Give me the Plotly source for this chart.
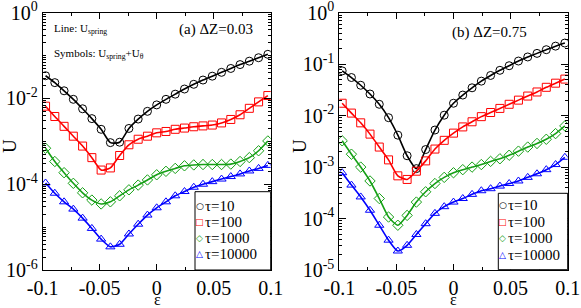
import plotly.graph_objects as go

# ---------------- data ----------------
eps = [-0.0975, -0.089375, -0.08125, -0.073125, -0.065, -0.056875, -0.04875,
       -0.040625, -0.0325, -0.024375, -0.01625, -0.008125, 0.0, 0.008125,
       0.01625, 0.024375, 0.0325, 0.040625, 0.04875, 0.056875, 0.065,
       0.073125, 0.08125, 0.089375, 0.0975]

labels = ["τ=10", "τ=100", "τ=1000", "τ=10000"]

# panel (a) dZ = 0.03
a_tau10 = [3.39e-2, 2.34e-2, 1.51e-2, 9.55e-3, 5.75e-3, 3.39e-3, 1.91e-3, 9.33e-4,
           9.55e-4, 2.0e-3, 3.31e-3, 5.01e-3, 7.08e-3, 9.55e-3, 1.26e-2, 1.66e-2,
           2.14e-2, 2.69e-2, 3.31e-2, 4.07e-2, 5.01e-2, 6.17e-2, 7.41e-2, 8.91e-2, 0.107]
a_tau100 = [6.61e-3, 3.80e-3, 2.24e-3, 1.32e-3, 7.76e-4, 4.17e-4, 2.14e-4, 2.40e-4,
            4.68e-4, 8.32e-4, 1.12e-3, 1.32e-3, 1.58e-3, 1.70e-3, 1.91e-3, 2.04e-3,
            2.19e-3, 2.29e-3, 2.40e-3, 2.69e-3, 3.24e-3, 4.17e-3, 5.89e-3, 8.32e-3, 1.17e-2]
a_tau1000 = [6.92e-4, 3.39e-4, 1.86e-4, 1.05e-4, 6.31e-5, 4.27e-5, 3.47e-5, 3.89e-5,
             5.37e-5, 7.41e-5, 9.55e-5, 1.26e-4, 1.66e-4, 2.0e-4, 2.34e-4, 2.69e-4,
             2.82e-4, 2.88e-4, 2.88e-4, 2.88e-4, 2.95e-4, 3.39e-4, 4.17e-4, 6.03e-4, 1.02e-3]
a_tau10000 = [1.07e-4, 6.17e-5, 3.89e-5, 2.63e-5, 1.62e-5, 9.33e-6, 5.25e-6, 3.47e-6,
              3.98e-6, 6.92e-6, 1.17e-5, 1.91e-5, 2.82e-5, 3.89e-5, 5.37e-5, 6.76e-5,
              8.51e-5, 1.0e-4, 1.15e-4, 1.32e-4, 1.51e-4, 1.74e-4, 2.04e-4, 2.34e-4, 2.75e-4]

# panel (b) dZ = 0.75
b_tau10 = [7.41e-2, 5.50e-2, 3.89e-2, 2.63e-2, 1.66e-2, 9.12e-3, 4.17e-3, 1.66e-3,
           9.33e-4, 2.19e-3, 5.25e-3, 1.02e-2, 1.74e-2, 2.51e-2, 3.47e-2, 4.68e-2,
           6.03e-2, 7.59e-2, 9.33e-2, 0.115, 0.138, 0.162, 0.191, 0.224, 0.257]
b_tau100 = [1.74e-2, 1.12e-2, 7.24e-3, 4.37e-3, 2.45e-3, 1.38e-3, 6.76e-4, 5.75e-4,
            8.32e-4, 1.32e-3, 2.24e-3, 3.31e-3, 4.57e-3, 6.03e-3, 7.59e-3, 9.55e-3,
            1.15e-2, 1.38e-2, 1.66e-2, 2.0e-2, 2.40e-2, 2.88e-2, 3.55e-2, 4.27e-2, 5.13e-2]
b_tau1000 = [3.24e-3, 1.78e-3, 1.0e-3, 5.37e-4, 2.45e-4, 1.07e-4, 7.41e-5, 1.15e-4,
             2.09e-4, 3.31e-4, 4.79e-4, 6.31e-4, 7.76e-4, 8.91e-4, 1.0e-3, 1.12e-3,
             1.29e-3, 1.45e-3, 1.70e-3, 2.04e-3, 2.45e-3, 2.88e-3, 3.47e-3, 4.47e-3, 6.31e-3]
b_tau10000 = [7.76e-4, 4.47e-4, 2.63e-4, 1.45e-4, 7.41e-5, 3.80e-5, 2.34e-5, 3.02e-5,
              4.90e-5, 7.94e-5, 1.26e-4, 1.70e-4, 2.09e-4, 2.45e-4, 2.95e-4, 3.47e-4,
              3.80e-4, 4.27e-4, 4.79e-4, 5.37e-4, 6.31e-4, 7.41e-4, 8.91e-4, 1.12e-3, 1.55e-3]

x_tickvals = [-0.1, -0.05, 0, 0.05, 0.1]
x_ticktext = ["-0.1", "-0.05", "0", "0.05", "0.1"]
a_y_tickvals = [1, 1e-2, 1e-4, 1e-6]
a_y_ticktext = ["10<sup>0</sup>", "10<sup>-2</sup>", "10<sup>-4</sup>", "10<sup>-6</sup>"]
b_y_tickvals = [1, 1e-1, 1e-2, 1e-3, 1e-4, 1e-5]
b_y_ticktext = ["10<sup>0</sup>", "10<sup>-1</sup>", "10<sup>-2</sup>",
                "10<sup>-3</sup>", "10<sup>-4</sup>", "10<sup>-5</sup>"]

# ---------------- style ----------------
W, H = 581, 308
colors = ["#000000", "#ff0000", "#16a016", "#0000ff"]
symbols = ["circle-open", "square-open", "diamond-open", "triangle-up-open"]
glyphs = ["○", "□", "◇", "△"]
SERIF = "Liberation Serif, Times New Roman, serif"

def px(x):
    return x / W

def py(y):
    return 1 - y / H

def minor_vals(lo, hi, skip_major):
    out = []
    for e in range(lo, hi):
        base = 10.0 ** e
        for m in range(1, 10):
            if m == 1 and (base in skip_major):
                continue
            out.append(m * base)
    return out

fig = go.Figure()

panels = [
    ("x", "y", [a_tau10, a_tau100, a_tau1000, a_tau10000]),
    ("x2", "y2", [b_tau10, b_tau100, b_tau1000, b_tau10000]),
]
for xa, ya, series in panels:
    for k, vals in enumerate(series):
        fig.add_trace(go.Scatter(
            x=eps, y=vals, xaxis=xa, yaxis=ya, mode="lines",
            line=dict(color=colors[k], width=1.6, shape="spline", smoothing=0.6),
            showlegend=False, hoverinfo="skip"))
        fig.add_trace(go.Scatter(
            x=eps, y=vals, xaxis=xa, yaxis=ya, mode="markers",
            marker=dict(symbol=symbols[k], size=8, color=colors[k],
                        line=dict(color=colors[k], width=1)),
            name=labels[k], showlegend=False))

common_x = dict(
    range=[-0.1, 0.1], tickmode="array", tickvals=x_tickvals, ticktext=x_ticktext,
    ticks="inside", ticklen=6, tickcolor="black", showline=True, linecolor="black",
    linewidth=1, mirror="allticks", showgrid=False, zeroline=False,
    automargin=False, ticklabeloverflow="allow",
    tickfont=dict(family=SERIF, size=20, color="black"),
    minor=dict(ticks="inside", ticklen=3, tickcolor="black", dtick=0.025, tick0=0, showgrid=False),
)
common_y = dict(
    type="log", tickmode="array", ticks="inside", ticklen=7, tickcolor="black",
    showline=True, linecolor="black", linewidth=1, mirror="allticks",
    showgrid=False, zeroline=False, automargin=False, ticklabeloverflow="allow",
    tickfont=dict(family=SERIF, size=20, color="black"),
)

yd = [1 - 270 / H, 1 - 12.7 / H]
fig.update_layout(
    template="none",
    width=W, height=H, margin=dict(l=0, r=0, t=0, b=0, pad=0, autoexpand=False),
    paper_bgcolor="white", plot_bgcolor="white", showlegend=False,
    xaxis=dict(domain=[px(42.7), px(270.7)], anchor="y", **common_x),
    yaxis=dict(domain=yd, anchor="x", range=[-6, 0], tickvals=a_y_tickvals,
               ticktext=a_y_ticktext,
               minor=dict(ticks="inside", ticklen=3, tickcolor="black", showgrid=False,
                          tickmode="array", tickvals=minor_vals(-6, 0, a_y_tickvals)),
               **common_y),
    xaxis2=dict(domain=[px(339.3), px(567.7)], anchor="y2", **common_x),
    yaxis2=dict(domain=yd, anchor="x2", range=[-5, 0], tickvals=b_y_tickvals,
                ticktext=b_y_ticktext,
                minor=dict(ticks="inside", ticklen=3, tickcolor="black", showgrid=False,
                           tickmode="array", tickvals=minor_vals(-5, 0, b_y_tickvals)),
                **common_y),
)

ann = []
def text(x, y, s, size, xanchor="center", textangle=0, color="black", family=SERIF):
    ann.append(dict(x=px(x), y=py(y), xref="paper", yref="paper", text=s,
                    showarrow=False, xanchor=xanchor, yanchor="middle",
                    textangle=textangle, font=dict(family=family, size=size, color=color)))

# axis titles
text(9, 146, "U", 19, textangle=-90)
text(299, 146, "U", 19, textangle=-90)
text(157, 299, "ε", 16)
text(453, 299, "ε", 16)

# panel labels
text(52, 29, "Line: U<sub>spring</sub>", 11, xanchor="left")
text(52, 54, "Symbols: U<sub>spring</sub>+U<sub>θ</sub>", 11, xanchor="left")
text(216, 30, "(a) ΔZ=0.03", 15)
text(489, 32, "(b) ΔZ=0.75", 15)

# legends (box + entries)
shapes = []
legends = [(195, 270.7, 191.7, 270, [205.7, 221.7, 238, 254]),
           (498.3, 567.7, 193.3, 269.7, [204.7, 221.7, 238.3, 254.5])]
for x0, x1, y0, y1, rows in legends:
    shapes.append(dict(type="rect", xref="paper", yref="paper",
                       x0=px(x0), x1=px(x1), y0=py(y1), y1=py(y0),
                       line=dict(color="black", width=1), fillcolor="white", layer="above"))
    for k in range(4):
        text(x0 + 4.5, rows[k], glyphs[k], 9, color=colors[k], family="DejaVu Sans")
        text(x0 + 8, rows[k], labels[k], 15, xanchor="left")

fig.update_layout(annotations=ann, shapes=shapes)
fig.write_html("out.html", config={"displayModeBar": False},
               post_script="document.body.style.margin='0';document.body.style.overflow='hidden';")
